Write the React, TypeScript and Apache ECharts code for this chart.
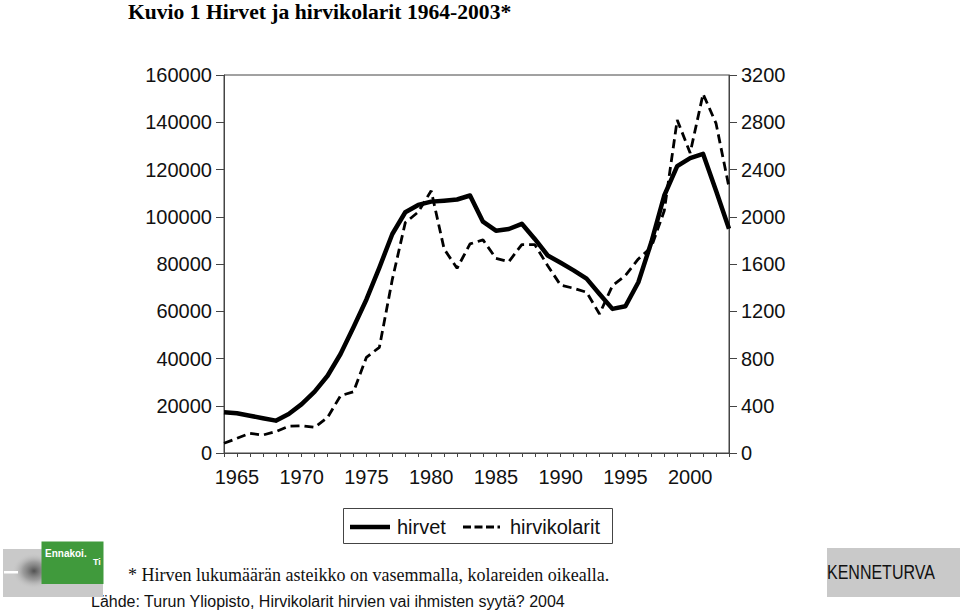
import React, { useEffect, useRef } from "react";
import * as echarts from "echarts";

const years = [
  1964, 1965, 1966, 1967, 1968, 1969, 1970, 1971, 1972, 1973,
  1974, 1975, 1976, 1977, 1978, 1979, 1980, 1981, 1982, 1983,
  1984, 1985, 1986, 1987, 1988, 1989, 1990, 1991, 1992, 1993,
  1994, 1995, 1996, 1997, 1998, 1999, 2000, 2001, 2002, 2003,
];

// Moose population (left axis)
const hirvet = [
  17200, 16800, 15800, 14700, 13700, 16500, 20700, 26000, 32700, 41900,
  53200, 65000, 78500, 92700, 101900, 105000, 106400, 106800, 107300, 109000,
  97900, 94100, 94800, 97000, 90600, 83600, 80500, 77300, 73800, 67300,
  61000, 62100, 72300, 89200, 109000, 121400, 124800, 126600, 111000, 94900,
];

// Moose collisions (right axis)
const hirvikolarit = [
  82, 124, 167, 152, 181, 226, 231, 217, 302, 485,
  519, 810, 895, 1470, 1950, 2040, 2220, 1727, 1564, 1770,
  1804, 1648, 1620, 1764, 1764, 1586, 1420, 1395, 1361, 1177,
  1417, 1502, 1643, 1742, 2050, 2820, 2540, 3040, 2790, 2250,
];

const titleText = "Kuvio 1 Hirvet ja hirvikolarit 1964-2003*";
const footnoteText = "* Hirven lukumäärän asteikko on vasemmalla, kolareiden oikealla.";
const sourceText = "Lähde: Turun Yliopisto, Hirvikolarit hirvien vai ihmisten syytä? 2004";
const seriesNames = ["hirvet", "hirvikolarit"];

const SANS = "'Liberation Sans', Arial, Helvetica, sans-serif";
const SERIF = "'Liberation Serif', 'Times New Roman', serif";
const AXIS_COLOR = "#444";

export default function App() {
  const ref = useRef<HTMLDivElement>(null);

  useEffect(() => {
    document.body.style.margin = "0";
    const chart = echarts.init(ref.current as HTMLDivElement, null, { renderer: "svg" });

    const axisLabel = {
      fontSize: 20,
      fontFamily: SANS,
      color: "#111",
      formatter: (v: number) => String(v),
    };

    chart.setOption({
      animation: false,
      backgroundColor: "#fff",
      grid: {
        left: 224,
        right: 231,
        top: 75,
        bottom: 157,
        show: true,
        borderColor: AXIS_COLOR,
        borderWidth: 1,
        backgroundColor: "transparent",
      },
      xAxis: {
        type: "value",
        min: 1964,
        max: 2003,
        interval: 1,
        axisLine: { show: true, lineStyle: { color: AXIS_COLOR, width: 1 } },
        axisTick: { show: true, length: 4, lineStyle: { color: AXIS_COLOR } },
        splitLine: { show: false },
        axisLabel: {
          ...axisLabel,
          margin: 14,
          formatter: (v: number) => (v % 5 === 0 ? String(v) : ""),
        },
      },
      yAxis: [
        {
          type: "value",
          position: "left",
          min: 0,
          max: 160000,
          interval: 20000,
          axisLine: { show: true, lineStyle: { color: AXIS_COLOR, width: 1 } },
          axisTick: { show: true, length: 8, lineStyle: { color: AXIS_COLOR } },
          splitLine: { show: false },
          axisLabel: { ...axisLabel, margin: 12 },
        },
        {
          type: "value",
          position: "right",
          min: 0,
          max: 3200,
          interval: 400,
          axisLine: { show: true, lineStyle: { color: AXIS_COLOR, width: 1 } },
          axisTick: { show: true, length: 8, lineStyle: { color: AXIS_COLOR } },
          splitLine: { show: false },
          axisLabel: { ...axisLabel, margin: 12 },
        },
      ],
      series: [
        {
          name: seriesNames[0],
          type: "line",
          yAxisIndex: 0,
          symbol: "none",
          data: years.map((y, i) => [y, hirvet[i]]),
          lineStyle: { color: "#000", width: 4.5, join: "round" },
          z: 2,
        },
        {
          name: seriesNames[1],
          type: "line",
          yAxisIndex: 1,
          symbol: "none",
          data: years.map((y, i) => [y, hirvikolarit[i]]),
          lineStyle: { color: "#000", width: 2.8, type: [9, 5] },
          z: 3,
        },
      ],
      graphic: [
        {
          type: "text",
          x: 128,
          y: 12,
          style: {
            text: titleText,
            font: `bold 21.6px ${SERIF}`,
            fill: "#000",
            align: "left",
            verticalAlign: "middle",
          },
        },
        // legend box
        {
          type: "rect",
          shape: { x: 343.5, y: 508.5, width: 269, height: 35 },
          style: { fill: "#fff", stroke: "#444", lineWidth: 1 },
        },
        {
          type: "line",
          shape: { x1: 350, y1: 527, x2: 390, y2: 527 },
          style: { stroke: "#000", lineWidth: 4.5 },
        },
        {
          type: "text",
          x: 397,
          y: 527,
          style: { text: seriesNames[0], font: `20px ${SANS}`, fill: "#111", verticalAlign: "middle" },
        },
        {
          type: "line",
          shape: { x1: 463, y1: 527, x2: 500, y2: 527 },
          style: { stroke: "#000", lineWidth: 2.8, lineDash: [8, 3.5] },
        },
        {
          type: "text",
          x: 510,
          y: 527,
          style: { text: seriesNames[1], font: `20px ${SANS}`, fill: "#111", verticalAlign: "middle" },
        },
        // footnote & source
        {
          type: "text",
          x: 128,
          y: 575,
          style: { text: footnoteText, font: `18px ${SERIF}`, fill: "#111", verticalAlign: "middle" },
        },
        {
          type: "text",
          x: 91,
          y: 601,
          style: { text: sourceText, font: `16px ${SANS}`, fill: "#111", verticalAlign: "middle" },
        },
        // left logo
        {
          type: "rect",
          shape: { x: 3, y: 549, width: 100, height: 48 },
          style: { fill: "#c9c9c9" },
        },
        {
          type: "ellipse",
          shape: { cx: 34, cy: 571, rx: 22, ry: 18 },
          style: {
            fill: new echarts.graphic.RadialGradient(0.5, 0.5, 0.5, [
              { offset: 0, color: "rgba(60,60,60,0.85)" },
              { offset: 0.5, color: "rgba(110,110,110,0.5)" },
              { offset: 1, color: "rgba(201,201,201,0)" },
            ]),
          },
        },
        {
          type: "rect",
          shape: { x: 4, y: 571, width: 14, height: 2.5 },
          style: { fill: "#fff" },
        },
        {
          type: "rect",
          shape: { x: 41.5, y: 541.5, width: 62, height: 42.5 },
          style: { fill: "#409a3c" },
        },
        {
          type: "text",
          x: 45,
          y: 553,
          style: { text: "Ennakoi.", font: `bold 10px ${SANS}`, fill: "#fff", verticalAlign: "middle" },
        },
        {
          type: "text",
          x: 93,
          y: 562,
          style: { text: "Ti", font: `bold 9px ${SANS}`, fill: "#fff", verticalAlign: "middle" },
        },
        // right logo
        {
          type: "rect",
          shape: { x: 827, y: 548, width: 133, height: 49 },
          style: { fill: "#c9c9c9" },
        },
        {
          type: "text",
          x: 827,
          y: 572,
          scaleX: 0.8,
          style: { text: "KENNETURVA", font: `20px ${SANS}`, fill: "#111", verticalAlign: "middle" },
        },
      ],
    });

    return () => chart.dispose();
  }, []);

  return (
    <div
      ref={ref}
      style={{ position: "absolute", left: 0, top: 0, width: 960, height: 610 }}
    />
  );
}
